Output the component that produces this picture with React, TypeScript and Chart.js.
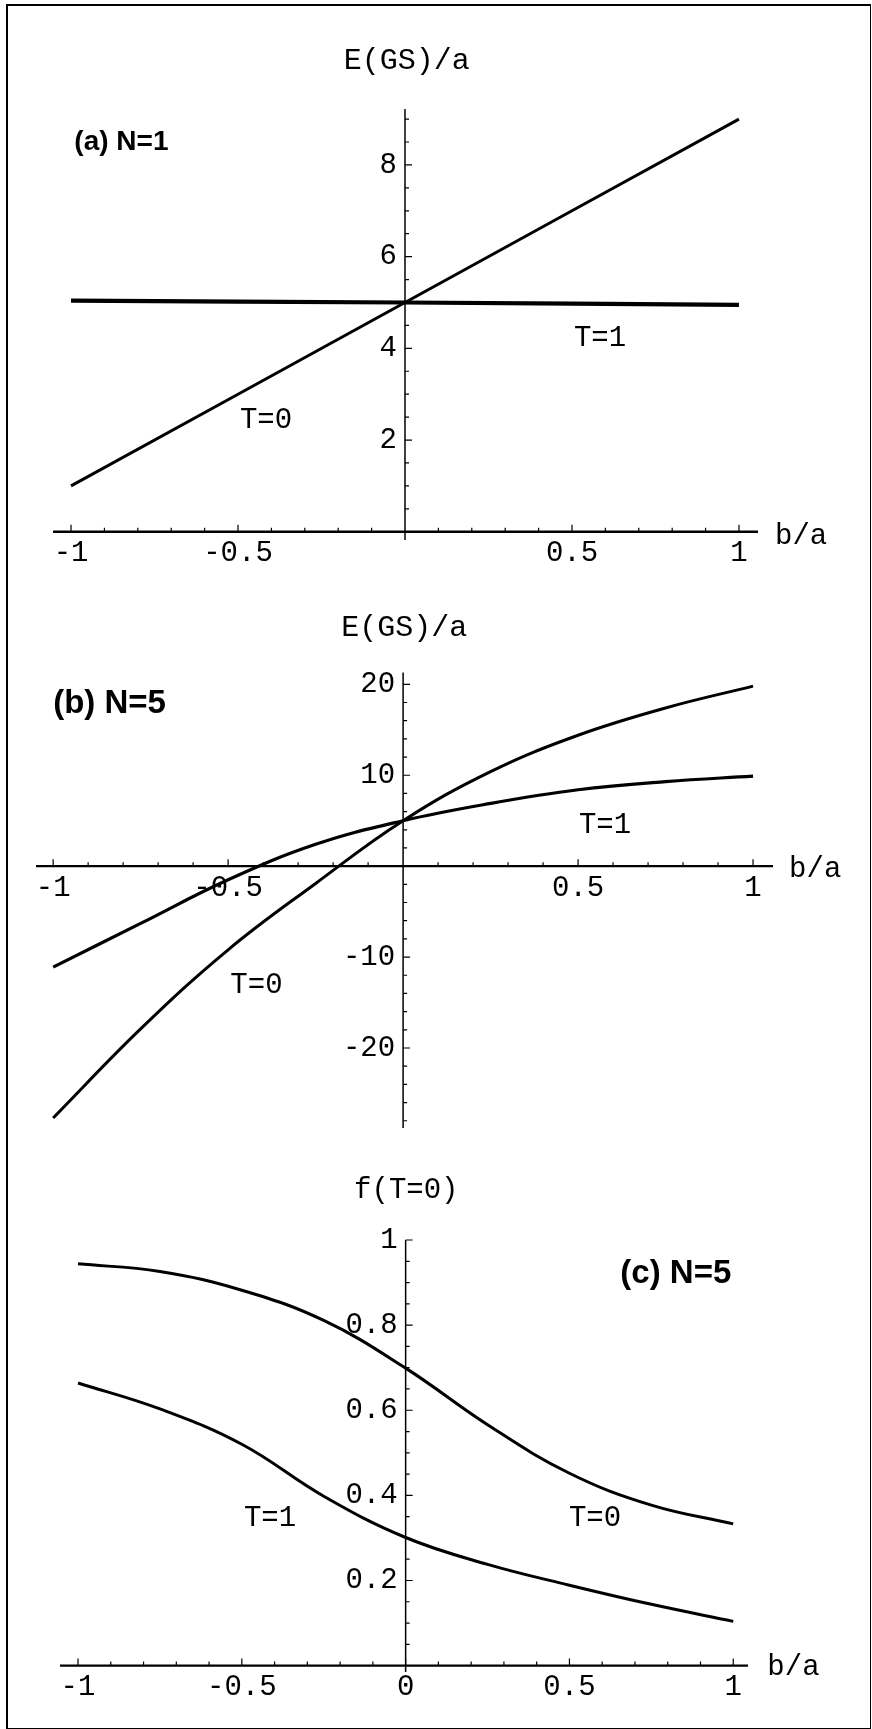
import React, { useEffect, useRef } from 'react';
import { Chart, registerables } from 'chart.js';

Chart.register(...registerables);

// ---------- data ----------
// Panel (a) N=1 : E(GS)/a vs b/a
const bA = [-1, 0, 1];
const eA_T0 = [1, 5, 9];
const eA_T1 = [5.04, 5.0, 4.95];

// Panel (b) N=5 : E(GS)/a vs b/a
const bB = [-1, -0.75, -0.5, -0.25, 0, 0.25, 0.5, 0.75, 1];
const eB_T0 = [-27.7, -17.9, -9.2, -1.9, 5.0, 10.4, 14.4, 17.4, 19.8];
const eB_T1 = [-11.1, -6.3, -1.5, 2.4, 5.0, 6.9, 8.4, 9.3, 9.9];

// Panel (c) N=5 : f(T=0) vs b/a
const bC = [-1, -0.75, -0.5, -0.25, 0, 0.25, 0.5, 0.75, 1];
const fC_T0 = [0.944, 0.926, 0.882, 0.811, 0.699, 0.566, 0.452, 0.377, 0.333];
const fC_T1 = [0.664, 0.603, 0.52, 0.398, 0.301, 0.238, 0.189, 0.144, 0.104];

// tick labels
const xTicksAB = [-1, -0.5, 0.5, 1];
const xTicksC = [-1, -0.5, 0, 0.5, 1];
const yTicksA = [2, 4, 6, 8];
const yTicksB = [-20, -10, 10, 20];
const yTicksC = [0.2, 0.4, 0.6, 0.8, 1];

// titles / labels
const yTitleE = 'E(GS)/a';
const yTitleF = 'f(T=0)';
const xTitle = 'b/a';
const panelLabels = ['(a) N=1', '(b) N=5', '(c) N=5'];

// ---------- styles ----------
const MONO = '29px "Liberation Mono", "Courier New", monospace';
const MONO_T = '30px "Liberation Mono", "Courier New", monospace';
const bold = (s: number) => `bold ${s}px "Liberation Sans", Arial, sans-serif`;

type Curve = { xs: number[]; ys: number[]; width: number };
type TextItem = { text: string; x: number; y: number; align: CanvasTextAlign; font: string };
type PanelCfg = {
  top: number;
  height: number;
  padding: { left: number; right: number; top: number; bottom: number };
  xMin: number; xMax: number; yMin: number; yMax: number;
  curves: Curve[];
  xTicks: number[]; yTicks: number[];
  xMinor: number; yMinor: number;
  texts: TextItem[];
};

const panels: PanelCfg[] = [
  {
    top: 0, height: 580,
    padding: { left: 53, right: 114, top: 109, bottom: 40 },
    xMin: -1.054, xMax: 1.057, yMin: -0.18, yMax: 9.22,
    curves: [
      { xs: bA, ys: eA_T0, width: 3 },
      { xs: bA, ys: eA_T1, width: 4.2 },
    ],
    xTicks: xTicksAB, yTicks: yTicksA, xMinor: 0.1, yMinor: 0.5,
    texts: [
      { text: yTitleE, x: 0.005, y: 10.27, align: 'center', font: MONO_T },
      { text: xTitle, x: 1.108, y: -0.09, align: 'left', font: MONO },
      { text: 'T=0', x: -0.416, y: 2.44, align: 'center', font: MONO },
      { text: 'T=1', x: 0.584, y: 4.22, align: 'center', font: MONO },
      { text: panelLabels[0], x: -0.99, y: 8.5, align: 'left', font: bold(28) },
    ],
  },
  {
    top: 580, height: 570,
    padding: { left: 36, right: 99, top: 92.5, bottom: 22 },
    xMin: -1.049, xMax: 1.057, yMin: -28.8, yMax: 21.3,
    curves: [
      { xs: bB, ys: eB_T0, width: 3 },
      { xs: bB, ys: eB_T1, width: 3.2 },
    ],
    xTicks: xTicksAB, yTicks: yTicksB, xMinor: 0.1, yMinor: 2,
    texts: [
      { text: yTitleE, x: 0.003, y: 26.2, align: 'center', font: MONO_T },
      { text: xTitle, x: 1.103, y: -0.4, align: 'left', font: MONO },
      { text: 'T=0', x: -0.419, y: -13.1, align: 'center', font: MONO },
      { text: 'T=1', x: 0.577, y: 4.5, align: 'center', font: MONO },
      { text: panelLabels[1], x: -1.0, y: 17.8, align: 'left', font: bold(33) },
    ],
  },
  {
    top: 1150, height: 579,
    padding: { left: 60, right: 124, top: 90, bottom: 57 },
    xMin: -1.055, xMax: 1.045, yMin: -0.015, yMax: 1.0,
    curves: [
      { xs: bC, ys: fC_T0, width: 3 },
      { xs: bC, ys: fC_T1, width: 3 },
    ],
    xTicks: xTicksC, yTicks: yTicksC, xMinor: 0.1, yMinor: 0.05,
    texts: [
      { text: yTitleF, x: 0.002, y: 1.116, align: 'center', font: MONO },
      { text: xTitle, x: 1.104, y: -0.005, align: 'left', font: MONO },
      { text: 'T=1', x: -0.414, y: 0.347, align: 'center', font: MONO },
      { text: 'T=0', x: 0.578, y: 0.347, align: 'center', font: MONO },
      { text: panelLabels[2], x: 0.994, y: 0.921, align: 'right', font: bold(33) },
    ],
  },
];

function minorValues(min: number, max: number, step: number, majors: number[]) {
  const out: number[] = [];
  const i0 = Math.ceil(min / step - 1e-9);
  const i1 = Math.floor(max / step + 1e-9);
  for (let i = i0; i <= i1; i++) {
    const v = i * step;
    if (Math.abs(v) < 1e-9) continue;
    if (majors.some((m) => Math.abs(m - v) < step * 0.01)) continue;
    out.push(v);
  }
  return out;
}

const fmt = (v: number) => String(v);

function makeAxesPlugin(cfg: PanelCfg) {
  return {
    id: 'mathAxes',
    beforeDatasetsDraw(chart: any) {
      const { ctx } = chart;
      const xs = chart.scales.x;
      const ys = chart.scales.y;
      const area = chart.chartArea;
      const x0 = xs.getPixelForValue(0);
      const y0 = ys.getPixelForValue(0);
      ctx.save();
      ctx.strokeStyle = '#000';
      ctx.fillStyle = '#000';
      // axis lines
      ctx.lineWidth = 2.4;
      ctx.beginPath();
      ctx.moveTo(area.left, y0);
      ctx.lineTo(area.right, y0);
      ctx.stroke();
      ctx.lineWidth = 1.5;
      ctx.beginPath();
      ctx.moveTo(x0, area.top);
      ctx.lineTo(x0, area.bottom);
      ctx.stroke();
      // ticks
      ctx.lineWidth = 1.2;
      ctx.beginPath();
      cfg.xTicks.forEach((v) => {
        const p = xs.getPixelForValue(v);
        ctx.moveTo(p, y0);
        ctx.lineTo(p, y0 - 7);
      });
      minorValues(cfg.xMin, cfg.xMax, cfg.xMinor, cfg.xTicks).forEach((v) => {
        const p = xs.getPixelForValue(v);
        ctx.moveTo(p, y0);
        ctx.lineTo(p, y0 - 4);
      });
      cfg.yTicks.forEach((v) => {
        const p = ys.getPixelForValue(v);
        ctx.moveTo(x0, p);
        ctx.lineTo(x0 + 7, p);
      });
      minorValues(cfg.yMin, cfg.yMax, cfg.yMinor, cfg.yTicks).forEach((v) => {
        const p = ys.getPixelForValue(v);
        ctx.moveTo(x0, p);
        ctx.lineTo(x0 + 4, p);
      });
      ctx.stroke();
      // tick labels
      ctx.font = MONO;
      ctx.textBaseline = 'middle';
      ctx.textAlign = 'center';
      cfg.xTicks.forEach((v) => {
        ctx.fillText(fmt(v), xs.getPixelForValue(v), y0 + 22);
      });
      ctx.textAlign = 'right';
      cfg.yTicks.forEach((v) => {
        ctx.fillText(fmt(v), x0 - 8, ys.getPixelForValue(v));
      });
      // titles and curve labels
      cfg.texts.forEach((t) => {
        ctx.font = t.font;
        ctx.textAlign = t.align;
        ctx.textBaseline = 'middle';
        ctx.fillText(t.text, xs.getPixelForValue(t.x), ys.getPixelForValue(t.y));
      });
      ctx.restore();
    },
  };
}

function Panel({ cfg }: { cfg: PanelCfg }) {
  const ref = useRef<HTMLCanvasElement>(null);
  useEffect(() => {
    const canvas = ref.current;
    if (!canvas) return;
    const chart = new Chart(canvas, {
      type: 'line',
      data: {
        datasets: cfg.curves.map((c) => ({
          data: c.xs.map((x, i) => ({ x, y: c.ys[i] })),
          borderColor: '#000',
          backgroundColor: '#000',
          borderWidth: c.width,
          pointRadius: 0,
          fill: false,
          tension: 0.4,
          borderJoinStyle: 'round' as const,
          clip: false as any,
        })),
      },
      options: {
        responsive: false,
        maintainAspectRatio: false,
        animation: false,
        devicePixelRatio: 1,
        events: [],
        layout: { padding: cfg.padding },
        plugins: { legend: { display: false }, tooltip: { enabled: false } },
        scales: {
          x: { type: 'linear', min: cfg.xMin, max: cfg.xMax, display: false },
          y: { type: 'linear', min: cfg.yMin, max: cfg.yMax, display: false },
        },
      },
      plugins: [makeAxesPlugin(cfg)],
    } as any);
    return () => chart.destroy();
  }, [cfg]);
  return (
    <canvas
      ref={ref}
      width={872}
      height={cfg.height}
      style={{ position: 'absolute', left: 0, top: cfg.top, width: 872, height: cfg.height }}
    />
  );
}

export default function App() {
  return (
    <div style={{ position: 'absolute', left: 0, top: 0, width: 872, height: 1729, background: '#fff', overflow: 'hidden' }}>
      {panels.map((p, i) => (
        <Panel key={i} cfg={p} />
      ))}
      <div
        style={{
          position: 'absolute',
          left: 6,
          top: 4,
          width: 862,
          height: 1722,
          borderLeft: '2px solid #000',
          borderTop: '2px solid #000',
          borderRight: '1px solid #000',
          borderBottom: '1px solid #000',
          pointerEvents: 'none',
        }}
      />
    </div>
  );
}
